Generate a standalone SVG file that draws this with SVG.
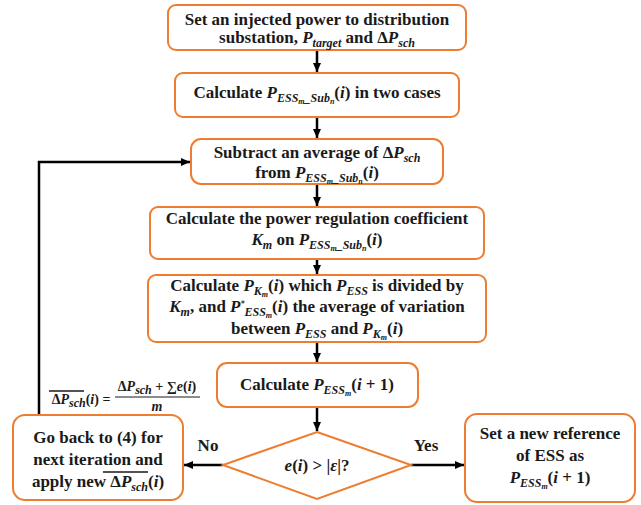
<svg xmlns="http://www.w3.org/2000/svg" width="641" height="505" viewBox="0 0 641 505">
<defs>
<style>
.box{fill:#fff;stroke:#ED7D31;stroke-width:2}
.t{font-family:"Liberation Serif","Times New Roman",serif;font-weight:bold;font-size:17px;fill:#1a1a1a;text-anchor:middle}
.f{font-family:"Liberation Serif","Times New Roman",serif;font-weight:bold;font-size:14px;fill:#1a1a1a;text-anchor:middle}
.i{font-style:italic}
.s{font-size:12px}
.ss{font-size:8px}
.conn{stroke:#000;stroke-width:2.5;fill:none}
.ol{stroke:#1a1a1a;stroke-width:1.3}
</style>
<marker id="ah" markerUnits="userSpaceOnUse" markerWidth="10" markerHeight="10" refX="9" refY="5" orient="auto">
<path d="M0,1 L9,5 L0,9 z" fill="#000"/>
</marker>
</defs>
<rect width="641" height="505" fill="#fff"/>

<g id="connectors">
<line class="conn" x1="317" y1="50" x2="317" y2="72" marker-end="url(#ah)"/>
<line class="conn" x1="317" y1="117" x2="317" y2="138" marker-end="url(#ah)"/>
<line class="conn" x1="317" y1="184" x2="317" y2="206" marker-end="url(#ah)"/>
<line class="conn" x1="317" y1="259" x2="317" y2="274" marker-end="url(#ah)"/>
<line class="conn" x1="317" y1="342" x2="317" y2="362" marker-end="url(#ah)"/>
<line class="conn" x1="317" y1="407" x2="317" y2="431" marker-end="url(#ah)"/>
<line class="conn" x1="223" y1="465" x2="184" y2="465" marker-end="url(#ah)"/>
<line class="conn" x1="411" y1="465" x2="464" y2="465" marker-end="url(#ah)"/>
<polyline class="conn" points="39,415 39,162 190,162" marker-end="url(#ah)"/>
<text class="t" x="208" y="451">No</text>
<text class="t" x="426" y="451">Yes</text>
</g>

<g id="formula">
<text class="f" x="81" y="404" text-anchor="middle">Δ<tspan class="i">P</tspan><tspan class="s i" dy="3">sch</tspan><tspan dy="-3">(</tspan><tspan class="i">i</tspan>) =</text>
<line class="ol" x1="49" y1="391" x2="84" y2="391"/>
<text class="f" x="157" y="391">Δ<tspan class="i">P</tspan><tspan class="s i" dy="3">sch</tspan><tspan dy="-3"> + ∑</tspan><tspan class="i">e</tspan>(<tspan class="i">i</tspan>)</text>
<line stroke="#1a1a1a" stroke-width="1.2" x1="115" y1="397" x2="200" y2="397"/>
<text class="f i" x="157" y="411">m</text>
</g>

<g id="n1">
<rect class="box" x="168" y="5" width="298" height="45" rx="8"/>
<text class="t" x="317" y="25">Set an injected power to distribution</text>
<text class="t" x="317" y="43">substation, <tspan class="i">P</tspan><tspan class="s i" dy="4">target</tspan><tspan dy="-4"> and Δ</tspan><tspan class="i">P</tspan><tspan class="s i" dy="4">sch</tspan></text>
</g>

<g id="n2">
<rect class="box" x="175" y="73" width="284" height="44" rx="8"/>
<text class="t" x="317" y="98">Calculate <tspan class="i">P</tspan><tspan class="s i" dy="4">ESS</tspan><tspan class="ss i" dy="2">m</tspan><tspan class="s i" dy="-2">_Sub</tspan><tspan class="ss i" dy="2">n</tspan><tspan dy="-6">(</tspan><tspan class="i">i</tspan>) in two cases</text>
</g>

<g id="n3">
<rect class="box" x="191" y="139" width="252" height="45" rx="10"/>
<text class="t" x="317" y="158">Subtract an average of Δ<tspan class="i">P</tspan><tspan class="s i" dy="4">sch</tspan></text>
<text class="t" x="317" y="178">from <tspan class="i">P</tspan><tspan class="s i" dy="4">ESS</tspan><tspan class="ss i" dy="2">m</tspan><tspan class="s i" dy="-2">_Sub</tspan><tspan class="ss i" dy="2">n</tspan><tspan dy="-6">(</tspan><tspan class="i">i</tspan>)</text>
</g>

<g id="n4">
<rect class="box" x="150" y="207" width="334" height="52" rx="8"/>
<text class="t" x="317" y="224">Calculate the power regulation coefficient</text>
<text class="t" x="317" y="245"><tspan class="i">K</tspan><tspan class="s i" dy="4">m</tspan><tspan dy="-4"> on </tspan><tspan class="i">P</tspan><tspan class="s i" dy="4">ESS</tspan><tspan class="ss i" dy="2">m</tspan><tspan class="s i" dy="-2">_Sub</tspan><tspan class="ss i" dy="2">n</tspan><tspan dy="-6">(</tspan><tspan class="i">i</tspan>)</text>
</g>

<g id="n5">
<rect class="box" x="148" y="275" width="338" height="67" rx="8"/>
<text class="t" x="317" y="291">Calculate <tspan class="i">P</tspan><tspan class="s i" dy="4">K</tspan><tspan class="ss i" dy="2">m</tspan><tspan dy="-6">(</tspan><tspan class="i">i</tspan>) which <tspan class="i">P</tspan><tspan class="s i" dy="4">ESS</tspan><tspan dy="-4"> is divided by</tspan></text>
<text class="t" x="317" y="312"><tspan class="i">K</tspan><tspan class="s i" dy="4">m</tspan><tspan dy="-4">, and </tspan><tspan class="i">P</tspan><tspan class="ss i" dy="-6">*</tspan><tspan class="s i" dy="10">ESS</tspan><tspan class="ss i" dy="2">m</tspan><tspan dy="-6">(</tspan><tspan class="i">i</tspan>) the average of variation</text>
<text class="t" x="317" y="334">between <tspan class="i">P</tspan><tspan class="s i" dy="4">ESS</tspan><tspan dy="-4"> and </tspan><tspan class="i">P</tspan><tspan class="s i" dy="4">K</tspan><tspan class="ss i" dy="2">m</tspan><tspan dy="-6">(</tspan><tspan class="i">i</tspan>)</text>
</g>

<g id="n6">
<rect class="box" x="217" y="363" width="201" height="44" rx="10"/>
<text class="t" x="317" y="390">Calculate <tspan class="i">P</tspan><tspan class="s i" dy="4">ESS</tspan><tspan class="ss i" dy="2">m</tspan><tspan dy="-6">(</tspan><tspan class="i">i</tspan> + 1)</text>
</g>

<g id="n7">
<rect class="box" x="13" y="415" width="170" height="85" rx="12"/>
<text class="t" x="98" y="443">Go back to (4) for</text>
<text class="t" x="98" y="465">next iteration and</text>
<text class="t" x="98" y="487">apply new Δ<tspan class="i">P</tspan><tspan class="s i" dy="4">sch</tspan><tspan dy="-4">(</tspan><tspan class="i">i</tspan>)</text>
<line class="ol" x1="103" y1="472" x2="148" y2="472"/>
</g>

<g id="n8">
<polygon class="box" points="317,432 411,465 317,499 223,465"/>
<text class="t" x="317" y="471"><tspan class="i">e</tspan>(<tspan class="i">i</tspan>) &gt; |<tspan class="i">ε</tspan>|?</text>
</g>

<g id="n9">
<rect class="box" x="465" y="414" width="170" height="88" rx="12"/>
<text class="t" x="550" y="439">Set a new reference</text>
<text class="t" x="550" y="461">of ESS as</text>
<text class="t" x="550" y="483"><tspan class="i">P</tspan><tspan class="s i" dy="4">ESS</tspan><tspan class="ss i" dy="2">m</tspan><tspan dy="-6">(</tspan><tspan class="i">i</tspan> + 1)</text>
</g>
</svg>
